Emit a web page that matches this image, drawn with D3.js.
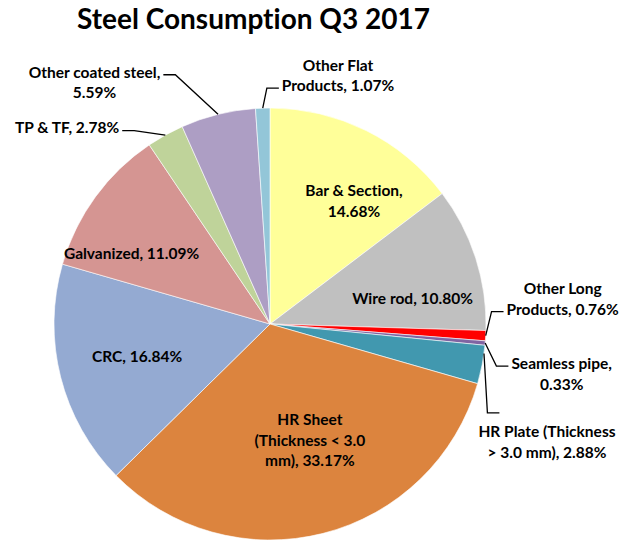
<!DOCTYPE html>
<html>
<head>
<meta charset="utf-8">
<script src="https://cdn.jsdelivr.net/npm/d3@7"></script>
<style>
  body { margin: 0; background: #fff; }
  svg { display: block; font-family: Lato, "Open Sans", sans-serif; font-weight: bold; font-variant-ligatures: none; }
</style>
</head>
<body>
<svg id="chart" width="633" height="540"></svg>
<script>
// Steel consumption share, Q3 2017 (clockwise from 12 o'clock)
var categories = ['Bar & Section', 'Wire rod', 'Other Long Products', 'Seamless pipe',
	'HR Plate (Thickness > 3.0 mm)', 'HR Sheet (Thickness < 3.0 mm)', 'CRC', 'Galvanized',
	'TP & TF', 'Other coated steel', 'Other Flat Products'];
var shares = [14.68, 10.80, 0.76, 0.33, 2.88, 33.17, 16.84, 11.09, 2.78, 5.59, 1.07];
var labelLines = [
	['Bar & Section,', '14.68%'],
	['Wire rod, 10.80%'],
	['Other Long', 'Products, 0.76%'],
	['Seamless pipe,', '0.33%'],
	['HR Plate (Thickness', '> 3.0 mm), 2.88%'],
	['HR Sheet', '(Thickness < 3.0', 'mm), 33.17%'],
	['CRC, 16.84%'],
	['Galvanized, 11.09%'],
	['TP & TF, 2.78%'],
	['Other coated steel,', '5.59%'],
	['Other Flat', 'Products, 1.07%']
];
var colors = ['#FFFF99', '#C0C0C0', '#FF0000', '#8064A2', '#4198AF', '#DC843E',
	'#94AAD2', '#D59592', '#BFD39A', '#AD9EC4', '#93C6D8'];

// label placement: [angle in degrees, radius factor, leader hook line (null = inside)]
var labelPlace = [
	[34.3, 0.69, null], [80.0, 0.67, null], [85.1, 1.36, 1], [99.7, 1.37, 0],
	[113.1, 1.394, -1.05], [161.1, 0.57, null], [256.1, 0.634, null], [297.1, 0.72, null],
	[314.0, 1.306, 0], [324.0, 1.382, 0], [15.3, 1.193, 1]
];

var svg = d3.select('#chart');
var cx = 270, cy = 324, radius = 216;
var lineH = 20.5;

svg.append('text')
	.attr('x', 253.5)
	.attr('y', 29)
	.attr('text-anchor', 'middle')
	.style('font-size', '28px')
	.text('Steel Consumption Q3 2017');

var pie = d3.pie().sort(null).value(function(d) { return d; });
var arc = d3.arc().innerRadius(0).outerRadius(radius);
var arcs = pie(shares);

var g = svg.append('g').attr('transform', 'translate(' + cx + ',' + cy + ')');

g.selectAll('path.slice')
	.data(arcs)
	.enter()
	.append('path')
	.attr('class', 'slice')
	.attr('d', arc)
	.attr('fill', function(d, i) { return colors[i]; })
	.attr('stroke', '#fff')
	.attr('stroke-width', 0.6);

function polar(deg, r) {
	var a = deg * Math.PI / 180;
	return [r * Math.sin(a), -r * Math.cos(a)];
}

arcs.forEach(function(d, i) {
	var place = labelPlace[i];
	var p = polar(place[0], radius * place[1]);
	var lines = labelLines[i];
	var y0 = p[1] - (lines.length - 1) * lineH / 2;

	var t = g.append('text')
		.attr('text-anchor', 'middle')
		.style('font-size', '15.5px')
		.attr('fill', '#000');
	lines.forEach(function(s, j) {
		t.append('tspan')
			.attr('x', p[0])
			.attr('y', y0 + j * lineH)
			.attr('dy', '0.35em')
			.text(s);
	});

	if (place[2] === null) return;

	// Leader line from slice edge to the label
	var mid = (d.startAngle + d.endAngle) / 2 * 180 / Math.PI;
	var e = polar(mid, radius);
	var hookLine = Math.max(0, Math.round(place[2]));
	var w = t.selectAll('tspan').nodes()[hookLine].getComputedTextLength();
	var right = p[0] > e[0];
	var lx = right ? p[0] - w / 2 - 3 : p[0] + w / 2 + 3;
	var ly = y0 + place[2] * lineH + 2.5;
	// hook above the label: the stub sits over the label's left part
	if (place[2] < 0) lx += 24;
	var px = right ? lx - 12 : lx + 12;
	if (place[2] < 0) e = polar(mid - 3, radius);

	g.append('path')
		.attr('d', d3.line()([e, [px, ly], [lx, ly]]))
		.attr('fill', 'none')
		.attr('stroke', '#000')
		.attr('stroke-width', 1.3);
});
</script>
</body>
</html>
